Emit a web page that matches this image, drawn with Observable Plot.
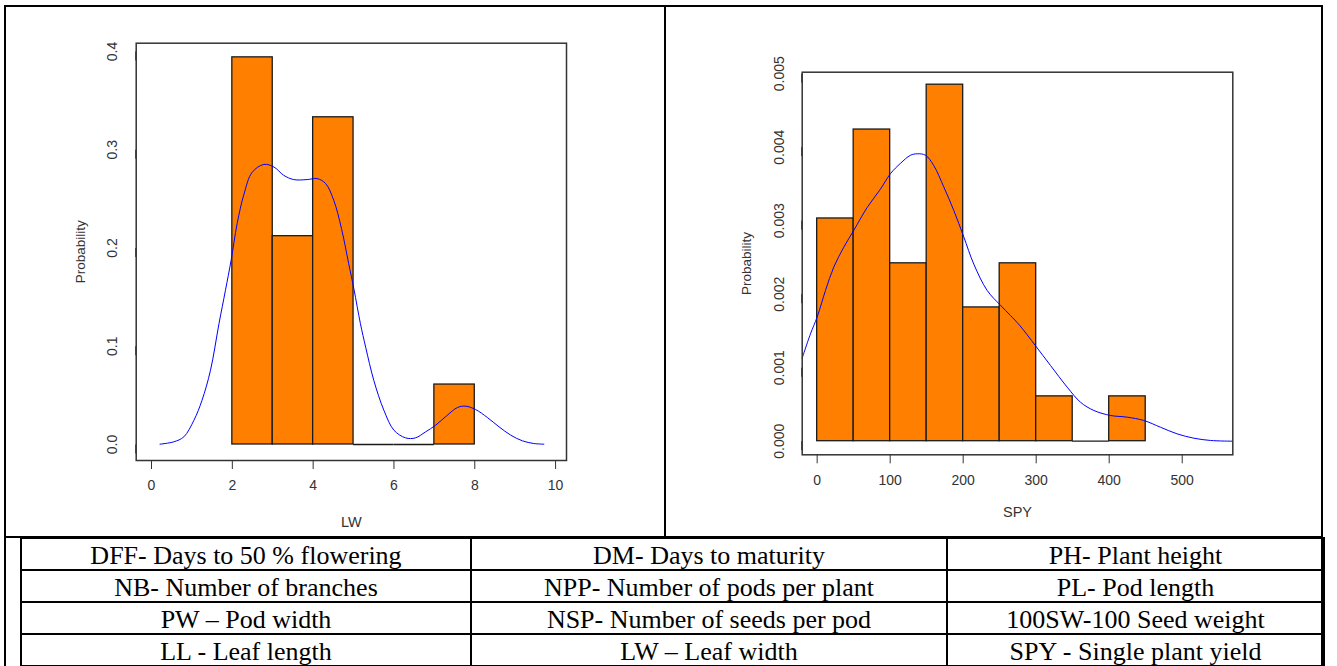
<!DOCTYPE html>
<html><head><meta charset="utf-8">
<script src="https://cdn.jsdelivr.net/npm/d3@7"></script>
<script src="https://cdn.jsdelivr.net/npm/@observablehq/plot@0.6"></script>
<style>
html,body{margin:0;padding:0;background:#fff;}
#page{position:relative;width:1337px;height:666px;overflow:hidden;background:#fff;}
.ln{position:absolute;background:#000;z-index:5;}
#lw,#spy{position:absolute;top:0;z-index:1;}
#lw{left:0px;} #spy{left:665px;}
#lw svg,#spy svg{max-width:none;display:block;}
table{position:absolute;left:20px;top:537px;width:1303px;height:129px;border-collapse:collapse;table-layout:fixed;
  font-family:"Liberation Serif","Times New Roman",serif;font-size:26px;color:#000;z-index:3;}
td{border:2px solid #000;text-align:center;padding:0;height:30px;line-height:28px;white-space:nowrap;overflow:hidden;}
td span{position:relative;top:2px;}
</style></head>
<body><div id="page">
<div id="lw"></div><div id="spy"></div>
<div class="ln" style="left:4px;top:5px;width:2px;height:661px"></div>
<div class="ln" style="left:4px;top:5px;width:1319px;height:2px"></div>
<div class="ln" style="left:664px;top:5px;width:2px;height:532px"></div>
<div class="ln" style="left:1321px;top:5px;width:2px;height:661px"></div>
<div class="ln" style="left:4px;top:536px;width:1319px;height:2px"></div>
<table id="tbl"><colgroup><col style="width:450px"><col style="width:476px"><col style="width:377px"></colgroup><tbody></tbody></table>
</div>
<script>
// ---- data ----
const lwBreaks = [2, 3, 4, 5, 6, 7, 8];
const lwDensity = [0.394, 0.212, 0.333, 0, 0, 0.061];
const lwCurveX = [0.21, 0.55, 0.80, 1.05, 1.25, 1.46, 1.67, 1.83, 1.97, 2.12, 2.29, 2.49, 2.78, 3.03, 3.27, 3.52, 3.85, 4.10, 4.31, 4.51, 4.70, 4.88, 5.01, 5.17, 5.30, 5.50, 5.75, 6.00, 6.29, 6.53, 6.78, 7.03, 7.32, 7.57, 7.77, 8.02, 8.31, 8.60, 8.89, 9.18, 9.46, 9.71];
const lwCurveY = [0.0003, 0.0027, 0.0078, 0.0247, 0.045, 0.0756, 0.123, 0.157, 0.1875, 0.225, 0.255, 0.277, 0.285, 0.2824, 0.274, 0.2696, 0.2696, 0.2706, 0.2655, 0.2485, 0.220, 0.184, 0.158, 0.123, 0.099, 0.0654, 0.0349, 0.0145, 0.0067, 0.0067, 0.0128, 0.0196, 0.0298, 0.0376, 0.039, 0.0356, 0.0275, 0.018, 0.0095, 0.0037, 0.001, 0.0003];
const lwTicksX = [0, 2, 4, 6, 8, 10];
const lwTicksY = [0, 0.1, 0.2, 0.3, 0.4];

const spyBreaks = [0, 50, 100, 150, 200, 250, 300, 350, 400, 450];
const spyDensity = [0.00303, 0.00424, 0.00242, 0.00485, 0.00182, 0.00242, 0.00061, 0, 0.00061];
const spyCurveX = [-20.5, -9.2, 0, 11.4, 22.8, 36.5, 50.2, 68.5, 86.7, 100.4, 114.1, 127.8, 137, 148.4, 159.7, 173.4, 187.1, 200.8, 214.5, 232.9, 251, 264.8, 277, 299, 319.6, 342.5, 360.7, 379, 401.8, 424.7, 447.4, 470.3, 493, 516, 538.8, 569];
const spyCurveY = [0.00113, 0.00146, 0.00169, 0.00205, 0.00237, 0.00264, 0.00287, 0.00318, 0.00343, 0.00364, 0.00378, 0.00389, 0.00391, 0.00389, 0.00375, 0.00346, 0.00314, 0.00278, 0.00241, 0.00205, 0.00185, 0.00171, 0.00158, 0.00130, 0.00103, 0.000735, 0.00053, 0.000418, 0.00035, 0.000327, 0.000282, 0.00019, 0.00010, 0.000041, 0.00001, 0.0];
const spyTicksX = [0, 100, 200, 300, 400, 500];
const spyTicksY = [0, 0.001, 0.002, 0.003, 0.004, 0.005];

const yTitle = "Probability";
const lwTitle = "LW";
const spyTitle = "SPY";

const legendRows = [
  ["DFF- Days to 50 % flowering", "DM- Days to maturity", "PH- Plant height"],
  ["NB- Number of branches", "NPP- Number of pods per plant", "PL- Pod length"],
  ["PW \u2013 Pod width", "NSP- Number of seeds per pod", "100SW-100 Seed weight"],
  ["LL - Leaf length", "LW \u2013 Leaf width", "SPY - Single plant yield"]
];

// ---- chart builder ----
function histPanel(o) {
  const bins = o.density.map((d, i) => ({x1: o.breaks[i], x2: o.breaks[i + 1], y1: 0, y2: d}));
  const curve = o.cx.map((x, i) => ({x, y: o.cy[i]}));
  return Plot.plot({
    width: o.width, height: o.height,
    marginLeft: o.ml, marginRight: o.mr, marginTop: o.mt, marginBottom: o.mb,
    x: {domain: o.xDomain},
    y: {domain: o.yDomain},
    style: {fontFamily: "'Liberation Sans', Arial, sans-serif", fontSize: "14px", color: "#333", background: "transparent"},
    marks: [
      Plot.rect(bins.filter(b => b.y2 > 0), {x1: "x1", x2: "x2", y1: "y1", y2: "y2", fill: "#ff8000", stroke: "#1a1a1a", strokeWidth: 1.3}),
      Plot.ruleY(bins.filter(b => b.y2 === 0), {y: "y2", x1: "x1", x2: "x2", stroke: "#1a1a1a", strokeWidth: 1.3}),
      Plot.line(curve, {x: "x", y: "y", stroke: "#0000ff", strokeWidth: 1, curve: "catmull-rom"}),
      Plot.frame({stroke: "#333", strokeWidth: 1.5}),
      Plot.axisX({ticks: o.xTicks, tickSize: 9, tickPadding: 11, label: null, stroke: "#333", fontSize: 14}),
      Plot.axisY({ticks: o.yTicks, tickSize: 9, tickPadding: o.yPad, rotate: -90, textAnchor: "middle", lineAnchor: "bottom", label: null, tickFormat: o.yFormat, stroke: "#333", fontSize: 14}),
      Plot.text([yTitle], {frameAnchor: "left", dx: o.yTitleDx, rotate: -90, textAnchor: "middle", lineAnchor: "middle", fill: "#333", fontSize: 13.5}),
      Plot.text([o.xTitle], {frameAnchor: "bottom", dy: o.xTitleDy, textAnchor: "middle", lineAnchor: "middle", fill: "#333", fontSize: 14.5})
    ]
  });
}

document.getElementById("lw").append(histPanel({
  breaks: lwBreaks, density: lwDensity, cx: lwCurveX, cy: lwCurveY,
  xDomain: [-0.379, 10.27], yDomain: [-0.0163, 0.4084],
  xTicks: lwTicksX, yTicks: lwTicksY, yFormat: d3.format(".1f"), yPad: 10.5,
  xTitle: lwTitle, width: 665, height: 536,
  ml: 135.7, mr: 99, mt: 42.7, mb: 76, yTitleDx: -55.7, xTitleDy: 61.7
}));

document.getElementById("spy").append(histPanel({
  breaks: spyBreaks, density: spyDensity, cx: spyCurveX, cy: spyCurveY,
  xDomain: [-20.5, 569.3], yDomain: [-0.000185, 0.00502],
  xTicks: spyTicksX, yTicks: spyTicksY, yFormat: d3.format(".3f"), yPad: 9.5,
  xTitle: spyTitle, width: 672, height: 536,
  ml: 136.7, mr: 104.7, mt: 71.7, mb: 81.7, yTitleDx: -55.2, xTitleDy: 57.4
}));

const tbody = document.querySelector("#tbl tbody");
for (const row of legendRows) {
  const tr = document.createElement("tr");
  for (const cell of row) {
    const td = document.createElement("td");
    const sp = document.createElement("span");
    sp.textContent = cell;
    td.append(sp);
    tr.append(td);
  }
  tbody.append(tr);
}
</script>
</body></html>
